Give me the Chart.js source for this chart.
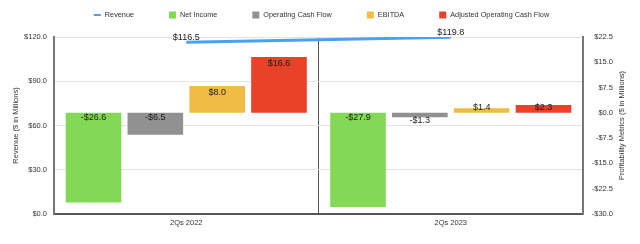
<!DOCTYPE html>
<html>
<head>
<meta charset="utf-8">
<script src="https://cdn.jsdelivr.net/npm/chart.js@4.4.0/dist/chart.umd.min.js"></script>
<style>
  html, body { margin: 0; padding: 0; background: #fff; }
  #wrap { width: 640px; height: 244px; }
</style>
</head>
<body>
<div id="wrap"><canvas id="myChart"></canvas></div>
<script>
var categories = ["2Qs 2022", "2Qs 2023"];
var revenue = [116.5, 119.8];
var netIncome = [-26.6, -27.9];
var operatingCashFlow = [-6.5, -1.3];
var ebitda = [8.0, 1.4];
var adjOperatingCashFlow = [16.6, 2.3];

var FONT = '"Liberation Sans", Arial, sans-serif';

function money(v) {
    return (v < 0 ? "-$" : "$") + Math.abs(v).toFixed(1);
}

var labelPlugin = {
    id: 'valueLabels',
    afterDatasetsDraw: function (chart) {
        var ctx = chart.ctx;
        ctx.save();
        ctx.fillStyle = '#1a1a1a';
        ctx.textAlign = 'center';
        ctx.font = '9px ' + FONT;
        chart.data.datasets.forEach(function (ds, di) {
            var meta = chart.getDatasetMeta(di);
            meta.data.forEach(function (el, i) {
                var v = ds.data[i];
                if (ds.type === 'line') {
                    ctx.textBaseline = 'bottom';
                    ctx.fillText(money(v), el.x, el.y - 0.5);
                } else {
                    ctx.textBaseline = 'middle';
                    var y;
                    if (v >= 0) {
                        y = Math.min(el.y + 6.5, el.base - 5);
                    } else {
                        y = (el.y - el.base < 10) ? el.y + 3.5 : el.base + 5;
                    }
                    ctx.fillText(money(v), el.x, y);
                }
            });
        });
        ctx.restore();
    },
    afterDraw: function (chart) {
        var ctx = chart.ctx;
        var area = chart.chartArea;
        var mid = (area.top + area.bottom) / 2;
        ctx.save();
        ctx.fillStyle = '#333';
        ctx.font = '7.5px ' + FONT;
        ctx.textAlign = 'center';
        ctx.textBaseline = 'middle';
        // axis titles
        ctx.save();
        ctx.translate(16, mid);
        ctx.rotate(-Math.PI / 2);
        ctx.fillText('Revenue ($ in Millions)', 0, 0);
        ctx.restore();
        ctx.save();
        ctx.translate(622, mid);
        ctx.rotate(-Math.PI / 2);
        ctx.fillText('Profitability Metrics ($ in Millions)', 0, 0);
        ctx.restore();

        // legend
        ctx.font = '7.3px ' + FONT;
        var ds = chart.data.datasets;
        var sym = 7, gap = 4, spacing = 35;
        var total = 0;
        ds.forEach(function (d, i) {
            total += sym + gap + ctx.measureText(d.label).width + (i < ds.length - 1 ? spacing : 0);
        });
        var x = 321.5 - total / 2;
        var y = 15;
        ctx.textAlign = 'left';
        ds.forEach(function (d) {
            if (d.type === 'line') {
                ctx.fillStyle = d.borderColor;
                ctx.fillRect(x, y - 1, sym, 2);
            } else {
                ctx.fillStyle = d.backgroundColor;
                ctx.fillRect(x, y - 3.5, sym, sym);
            }
            ctx.fillStyle = '#333';
            ctx.fillText(d.label, x + sym + gap, y);
            x += sym + gap + ctx.measureText(d.label).width + spacing;
        });
        ctx.restore();
    }
};

var ctx = document.getElementById('myChart').getContext('2d');

var myChart = new Chart(ctx, {
    type: 'bar',
    data: {
        labels: categories,
        datasets: [
            {
                type: 'line',
                label: 'Revenue',
                data: revenue,
                yAxisID: 'y',
                borderColor: 'rgb(74, 160, 245)',
                backgroundColor: 'rgb(74, 160, 245)',
                borderWidth: 3,
                pointRadius: 0,
                order: 0
            },
            {
                label: 'Net Income',
                data: netIncome,
                yAxisID: 'y1',
                backgroundColor: 'rgb(131, 216, 86)',
                order: 1
            },
            {
                label: 'Operating Cash Flow',
                data: operatingCashFlow,
                yAxisID: 'y1',
                backgroundColor: 'rgb(145, 145, 145)',
                order: 1
            },
            {
                label: 'EBITDA',
                data: ebitda,
                yAxisID: 'y1',
                backgroundColor: 'rgb(240, 188, 68)',
                order: 1
            },
            {
                label: 'Adjusted Operating Cash Flow',
                data: adjOperatingCashFlow,
                yAxisID: 'y1',
                backgroundColor: 'rgb(233, 66, 40)',
                order: 1
            }
        ]
    },
    options: {
        responsive: true,
        maintainAspectRatio: false,
        animation: false,
        datasets: {
            bar: { categoryPercentage: 0.935, barPercentage: 0.9 }
        },
        layout: { padding: { left: 0, right: 27, top: 37, bottom: 0 } },
        plugins: {
            tooltip: { enabled: false },
            legend: { display: false }
        },
        scales: {
            x: {
                grid: { offset: true, color: '#555', lineWidth: 1, drawTicks: false },
                border: { display: true, color: '#555', width: 2 },
                ticks: {
                    color: '#333',
                    padding: 4,
                    font: { size: 7.5, family: FONT }
                },
                afterFit: function (scale) { scale.height = 30; }
            },
            y: {
                position: 'left',
                min: 0,
                max: 120,
                ticks: {
                    stepSize: 30,
                    color: '#333',
                    padding: 7,
                    font: { size: 7.5, family: FONT },
                    callback: function (v) { return money(v); }
                },
                grid: { color: '#e4e4e4', drawTicks: false },
                border: { display: true, color: '#777', width: 2 },
                afterFit: function (scale) { scale.width = 54; }
            },
            y1: {
                position: 'right',
                min: -30,
                max: 22.5,
                ticks: {
                    stepSize: 7.5,
                    color: '#333',
                    padding: 9,
                    crossAlign: 'far',
                    font: { size: 7.5, family: FONT },
                    callback: function (v) { return money(v); }
                },
                grid: { display: false, drawTicks: false },
                border: { display: true, color: '#777', width: 2 },
                afterFit: function (scale) { scale.width = 30; }
            }
        }
    },
    plugins: [labelPlugin]
});
</script>
</body>
</html>
